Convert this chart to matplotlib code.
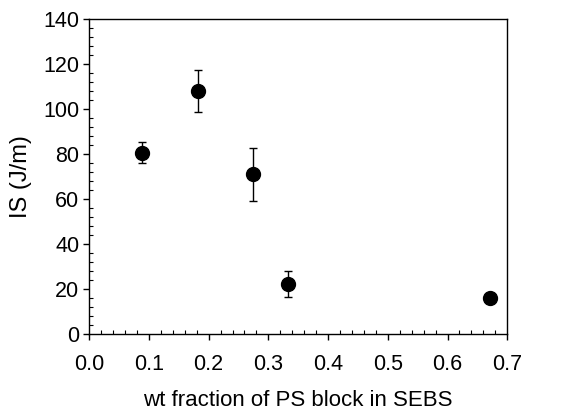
import matplotlib
matplotlib.use("Agg")
import matplotlib.pyplot as plt
from matplotlib.ticker import MultipleLocator, FormatStrFormatter

plt.rcParams['font.family'] = ['Liberation Sans', 'DejaVu Sans']

wt_fraction = [0.088, 0.182, 0.274, 0.333, 0.671]
impact_strength = [80.6, 108.0, 71.1, 22.2, 15.9]
err_low = [4.8, 9.5, 11.8, 5.8, 0.0]
err_high = [4.6, 9.3, 11.6, 5.8, 0.0]

fig = plt.figure(figsize=(5.68, 4.12), dpi=100)
ax = fig.add_axes([0.157, 0.189, 0.736, 0.765])

ax.errorbar(wt_fraction, impact_strength, yerr=[err_low, err_high], fmt='o',
            color='black', markersize=10, ecolor='black', elinewidth=1.0,
            capsize=3, capthick=1.0)

ax.set_xlim(0.0, 0.7)
ax.set_ylim(0, 140)
ax.xaxis.set_major_locator(MultipleLocator(0.1))
ax.xaxis.set_minor_locator(MultipleLocator(0.02))
ax.yaxis.set_major_locator(MultipleLocator(20))
ax.yaxis.set_minor_locator(MultipleLocator(4))
ax.xaxis.set_major_formatter(FormatStrFormatter('%.1f'))

ax.tick_params(axis='both', which='major', direction='out', length=4, width=1,
               labelsize=15.5)
ax.tick_params(axis='x', which='major', pad=10)
ax.tick_params(axis='y', which='major', pad=3)
ax.tick_params(axis='both', which='minor', direction='in', length=3, width=0.8)

for s in ax.spines.values():
    s.set_linewidth(1.0)

ax.set_xlabel('wt fraction of PS block in SEBS', fontsize=16, labelpad=11)
ax.set_ylabel('IS (J/m)', fontsize=17, labelpad=8)

fig.savefig('out.png', dpi=100)
